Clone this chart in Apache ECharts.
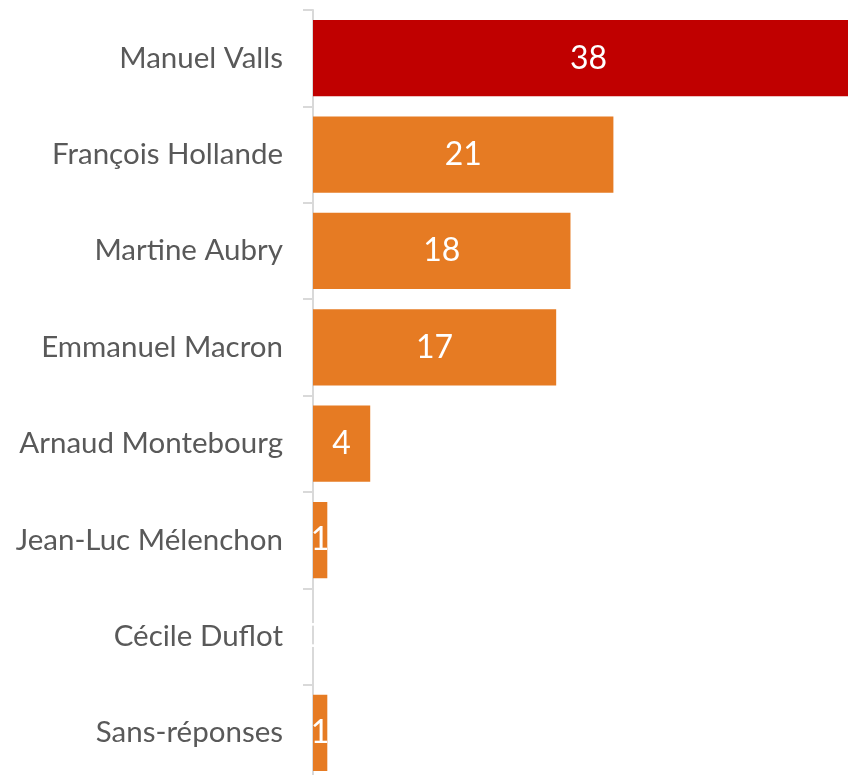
<!DOCTYPE html>
<html>
<head>
<meta charset="utf-8">
<script src="https://cdn.jsdelivr.net/npm/echarts@6/dist/echarts.min.js"></script>
<style>
  html, body { margin: 0; padding: 0; background: #fff; }
  #container { width: 848px; height: 775px; }
</style>
</head>
<body>
<div id="container"></div>
<script>
var categories = ['Manuel Valls', 'François Hollande', 'Martine Aubry', 'Emmanuel Macron',
    'Arnaud Montebourg', 'Jean-Luc Mélenchon', 'Cécile Duflot', 'Sans-réponses'];
var values = [38, 21, 18, 17, 4, 1, 0, 1];
var highlightColor = '#C00000';
var barColor = '#E67B23';

var chart = echarts.init(document.getElementById('container'));

var option = {
    animation: false,
    grid: {
        left: 313,
        right: 0,
        top: 10,
        bottom: -6,
        outerBoundsMode: 'none'
    },
    xAxis: {
        type: 'value',
        min: 0,
        max: 37.4,
        show: false
    },
    yAxis: {
        type: 'category',
        inverse: true,
        data: categories,
        axisLine: {
            lineStyle: { color: '#D9D9D9', width: 2 }
        },
        axisTick: {
            show: true,
            length: 10,
            lineStyle: { color: '#D9D9D9', width: 2 }
        },
        axisLabel: {
            margin: 30,
            fontFamily: 'Lato',
            fontSize: 29.5,
            color: '#595959'
        }
    },
    series: [{
        type: 'bar',
        barCategoryGap: '21%',
        data: values.map(function (v, i) {
            return {
                value: v,
                itemStyle: { color: i === 0 ? highlightColor : barColor },
                label: i === 0 ? { offset: [8, 0] } : undefined
            };
        }),
        label: {
            show: true,
            position: 'inside',
            color: '#fff',
            fontFamily: 'Lato',
            fontSize: 32
        }
    }]
};
chart.setOption(option);
</script>
</body>
</html>
